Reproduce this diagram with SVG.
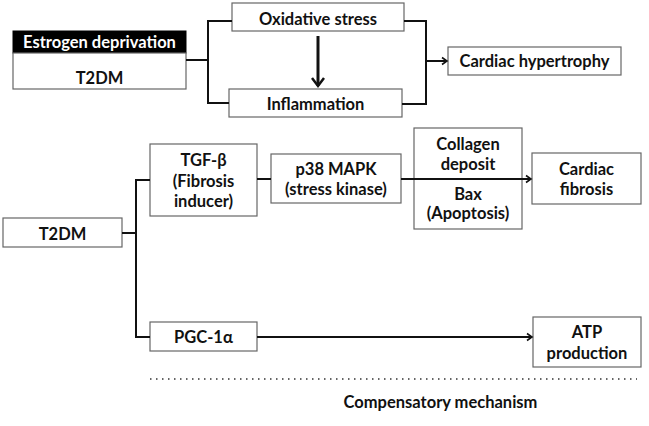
<svg xmlns="http://www.w3.org/2000/svg" width="649" height="426" viewBox="0 0 649 426">
<style>
.box{fill:#fff;stroke:#666;stroke-width:1.2}
.t{font-family:Lato,"Liberation Sans",sans-serif;font-weight:bold;font-size:16.5px;fill:#111;text-anchor:middle}
.c{fill:none;stroke:#111;stroke-width:2}
</style>
<defs>
<marker id="ah" markerWidth="10" markerHeight="10" refX="8" refY="5" orient="auto" markerUnits="userSpaceOnUse">
<path d="M3,1.5 L8,5 L3,8.5" fill="none" stroke="#111" stroke-width="1.6"/>
</marker>
<marker id="ahd" markerWidth="14" markerHeight="14" refX="11" refY="7" orient="auto" markerUnits="userSpaceOnUse">
<path d="M3,1 L11,7 L3,13" fill="none" stroke="#111" stroke-width="2.5"/>
</marker>
</defs>
<rect width="649" height="426" fill="#fff"/>
<g id="estrogen">
<rect x="13" y="31" width="173" height="22" fill="#000" stroke="#000"/>
<text class="t" x="99.5" y="47.5" style="fill:#fff">Estrogen deprivation</text>
</g>
<g id="t2dm-top">
<rect class="box" x="13" y="53" width="173" height="36"/>
<text class="t" x="99.5" y="84">T2DM</text>
</g>
<g id="oxidative">
<rect class="box" x="232" y="3" width="172" height="28"/>
<text class="t" x="318" y="25">Oxidative stress</text>
</g>
<g id="inflammation">
<rect class="box" x="229" y="89" width="173" height="28"/>
<text class="t" x="315.5" y="110">Inflammation</text>
</g>
<g id="hypertrophy">
<rect class="box" x="448" y="47" width="173" height="28"/>
<text class="t" x="534.5" y="67">Cardiac hypertrophy</text>
</g>
<g id="t2dm-bottom">
<rect class="box" x="3" y="218" width="119" height="29"/>
<text class="t" x="62.5" y="240">T2DM</text>
</g>
<g id="tgf">
<rect class="box" x="150" y="144" width="107" height="72"/>
<text class="t" x="203.5" y="166">TGF-β</text>
<text class="t" x="203.5" y="187">(Fibrosis</text>
<text class="t" x="203.5" y="207">inducer)</text>
</g>
<g id="p38">
<rect class="box" x="271" y="154" width="130" height="49"/>
<text class="t" x="336" y="175">p38 MAPK</text>
<text class="t" x="336" y="195">(stress kinase)</text>
</g>
<g id="collagen">
<rect class="box" x="414" y="128" width="108" height="101"/>
<text class="t" x="468" y="150">Collagen</text>
<text class="t" x="468" y="170">deposit</text>
<text class="t" x="468" y="200">Bax</text>
<text class="t" x="468" y="219">(Apoptosis)</text>
</g>
<g id="fibrosis">
<rect class="box" x="532" y="153" width="109" height="51"/>
<text class="t" x="586.5" y="175">Cardiac</text>
<text class="t" x="586.5" y="195">fibrosis</text>
</g>
<g id="pgc">
<rect class="box" x="150" y="322" width="107" height="29"/>
<text class="t" x="203.5" y="343">PGC-1α</text>
</g>
<g id="atp">
<rect class="box" x="533" y="317" width="108" height="50"/>
<text class="t" x="587" y="338">ATP</text>
<text class="t" x="587" y="359">production</text>
</g>
<g id="label">
<text class="t" x="440.5" y="408">Compensatory mechanism</text>
</g>
<g id="connectors">
<path class="c" d="M186,60 H208 M232,21 H208 V103 H229"/>
<path class="c" d="M404,21 H426 V104 H402"/>
<path class="c" d="M426,61 H447" marker-end="url(#ah)"/>
<path d="M318,36 V86" fill="none" stroke="#111" stroke-width="3" marker-end="url(#ahd)"/>
<path class="c" d="M122,233 H136 M150,180 H136 V337 H150"/>
<path class="c" d="M257,179 H271"/>
<path class="c" d="M401,179 H531" marker-end="url(#ah)"/>
<path class="c" d="M257,337 H532" marker-end="url(#ah)"/>
<line x1="150" y1="379" x2="637" y2="379" stroke="#333" stroke-width="1.5" stroke-dasharray="1.5,4.5"/>
</g>
</svg>
